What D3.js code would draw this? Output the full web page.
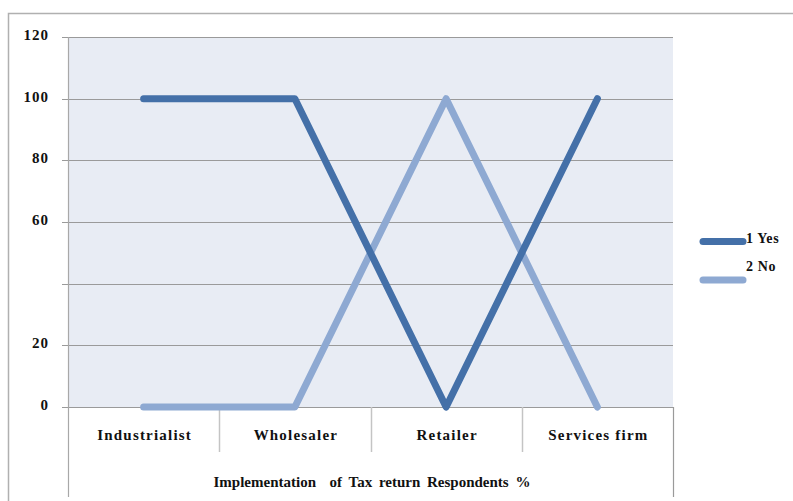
<!DOCTYPE html>
<html>
<head>
<meta charset="utf-8">
<script src="https://cdn.jsdelivr.net/npm/d3@7"></script>
<style>
  html, body { margin: 0; padding: 0; background: #fff; }
  svg { display: block; }
</style>
</head>
<body>
<svg id="chart" width="793" height="501"></svg>
<script>
const categories = ["Industrialist", "Wholesaler", "Retailer", "Services firm"];
const yesValues = [100, 100, 0, 100];
const noValues = [0, 0, 100, 0];
const yTicks = [0, 20, 40, 60, 80, 100, 120];
const yTickLabels = ["0", "20", "", "60", "80", "100", "120"];
const seriesNames = ["1 Yes", "2 No"];
const axisTitle = "Implementation  of Tax return Respondents %";

const FONT = "Liberation Serif";
const svg = d3.select("#chart");
const plot = { left: 68, right: 673, top: 37, bottom: 407 };

const x = d3.scaleBand().domain(categories).range([plot.left, plot.right]);
const y = d3.scaleLinear().domain([0, 120]).range([plot.bottom, plot.top]);

// outer frame (top and left edges)
svg.append("path")
  .attr("d", "M8.5,501 V13.5 H793")
  .attr("fill", "none").attr("stroke", "#b0b0b0").attr("stroke-width", 1.5);

// plot background
svg.append("rect")
  .attr("x", plot.left).attr("y", plot.top)
  .attr("width", plot.right - plot.left).attr("height", plot.bottom - plot.top)
  .attr("fill", "#e8ecf4");

// horizontal gridlines with short ticks to the left
svg.append("g").selectAll("line").data(yTicks).join("line")
  .attr("x1", plot.left - 6).attr("x2", plot.right)
  .attr("y1", d => Math.round(y(d)) + 0.5).attr("y2", d => Math.round(y(d)) + 0.5)
  .attr("stroke", "#9a9a9a").attr("stroke-width", 1.2);

// value axis labels
svg.append("g").selectAll("text").data(yTicks).join("text")
  .attr("x", 49).attr("y", d => y(d) + 3)
  .attr("text-anchor", "end")
  .attr("font-family", FONT).attr("font-weight", "bold")
  .attr("font-size", 15).attr("letter-spacing", 1)
  .attr("fill", "#111")
  .text((d, i) => yTickLabels[i]);

// left axis line extending through the category area
svg.append("line")
  .attr("x1", plot.left + 0.5).attr("x2", plot.left + 0.5)
  .attr("y1", plot.top).attr("y2", 497)
  .attr("stroke", "#a8a8a8").attr("stroke-width", 1.2);

// category separators
const seps = categories.slice(1).map(c => x(c));
svg.append("g").selectAll("line").data(seps).join("line")
  .attr("x1", d => Math.round(d) + 0.5).attr("x2", d => Math.round(d) + 0.5)
  .attr("y1", plot.bottom).attr("y2", 452)
  .attr("stroke", "#c4c4c4").attr("stroke-width", 1.5);

// right edge of the category box
svg.append("line")
  .attr("x1", plot.right + 0.5).attr("x2", plot.right + 0.5)
  .attr("y1", plot.bottom).attr("y2", 497)
  .attr("stroke", "#9a9a9a").attr("stroke-width", 1.2);

// category labels
svg.append("g").selectAll("text").data(categories).join("text")
  .attr("x", d => x(d) + x.bandwidth() / 2 + 1).attr("y", 440)
  .attr("text-anchor", "middle")
  .attr("font-family", FONT).attr("font-weight", "bold")
  .attr("font-size", 15).attr("letter-spacing", 1.2)
  .attr("fill", "#111")
  .text(d => d);

// axis title
svg.append("text")
  .attr("x", 372).attr("y", 487)
  .attr("text-anchor", "middle")
  .attr("font-family", FONT).attr("font-weight", "bold")
  .attr("font-size", 15).attr("word-spacing", 3)
  .attr("fill", "#111")
  .style("white-space", "pre")
  .text(axisTitle);

// series lines
const line = d3.line()
  .x((d, i) => x(categories[i]) + x.bandwidth() / 2)
  .y(d => y(d));

const series = [
  { name: seriesNames[0], values: yesValues, color: "#4470a8" },
  { name: seriesNames[1], values: noValues, color: "#8ea9d2" }
];

// "No" first so "Yes" sits on top where they cross
[series[1], series[0]].forEach(s => {
  svg.append("path")
    .datum(s.values)
    .attr("d", line)
    .attr("fill", "none")
    .attr("stroke", s.color)
    .attr("stroke-width", 7)
    .attr("stroke-linejoin", "round")
    .attr("stroke-linecap", "round");
});

// legend
const legend = svg.append("g");
const legendRows = [
  { s: series[0], lineY: 241.5, textY: 243 },
  { s: series[1], lineY: 280, textY: 271 }
];
legendRows.forEach(r => {
  legend.append("line")
    .attr("x1", 703).attr("x2", 743)
    .attr("y1", r.lineY).attr("y2", r.lineY)
    .attr("stroke", r.s.color).attr("stroke-width", 7)
    .attr("stroke-linecap", "round");
  legend.append("text")
    .attr("x", 746).attr("y", r.textY)
    .attr("font-family", FONT).attr("font-weight", "bold")
    .attr("font-size", 14).attr("letter-spacing", 0.6)
    .attr("fill", "#111")
    .text(r.s.name);
});
</script>
</body>
</html>
